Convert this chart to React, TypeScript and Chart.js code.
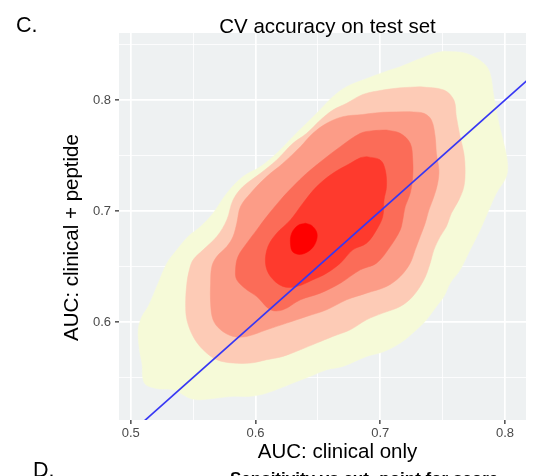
import React, { useEffect, useRef } from "react";
import { Chart, registerables } from "chart.js";

Chart.register(...registerables);

// ---- axis definitions ----
const xRange = [0.4906, 0.8168];
const yRange = [0.5117, 0.8604];
const xMajor = [0.5, 0.6, 0.7, 0.8];
const xMajorLabels = ["0.5", "0.6", "0.7", "0.8"];
const xMinor = [0.55, 0.65, 0.75];
const yMajor = [0.6, 0.7, 0.8];
const yMajorLabels = ["0.6", "0.7", "0.8"];
const yMinor = [0.55, 0.65, 0.75, 0.85];

const titleText = "CV accuracy on test set";
const xTitle = "AUC: clinical only";
const yTitle = "AUC: clinical + peptide";
const panelTag = "C.";
const nextPanelTag = "D.";
const nextPanelTitle = "Sensitivity vs cut- point for score";

// ---- density contour bands (outer -> inner), [x, y] in data units ----
const band1: [number, number][] = [
  [0.751, 0.844], [0.769, 0.842], [0.783, 0.833], [0.788, 0.824], [0.791, 0.803],
  [0.795, 0.779], [0.799, 0.761], [0.802, 0.743], [0.801, 0.731], [0.793, 0.716],
  [0.787, 0.701], [0.78, 0.683], [0.772, 0.665], [0.764, 0.647], [0.756, 0.635],
  [0.751, 0.623], [0.745, 0.614], [0.737, 0.602], [0.729, 0.593], [0.716, 0.581],
  [0.702, 0.573], [0.689, 0.569], [0.67, 0.56], [0.657, 0.557], [0.646, 0.552],
  [0.63, 0.545], [0.609, 0.536], [0.596, 0.533], [0.582, 0.533], [0.556, 0.53],
  [0.548, 0.531], [0.534, 0.539], [0.521, 0.54], [0.511, 0.545], [0.509, 0.563],
  [0.507, 0.575], [0.506, 0.593], [0.509, 0.605], [0.514, 0.614], [0.522, 0.635],
  [0.529, 0.653], [0.537, 0.665], [0.546, 0.677], [0.556, 0.686], [0.566, 0.698],
  [0.577, 0.716], [0.59, 0.731], [0.604, 0.74], [0.617, 0.752], [0.63, 0.767],
  [0.649, 0.788], [0.662, 0.803], [0.673, 0.812], [0.686, 0.818], [0.705, 0.826],
  [0.716, 0.83], [0.729, 0.836], [0.743, 0.842],
];
const band2: [number, number][] = [
  [0.732, 0.812], [0.751, 0.809], [0.759, 0.8], [0.761, 0.785], [0.764, 0.767],
  [0.767, 0.752], [0.768, 0.737], [0.767, 0.722], [0.763, 0.71], [0.757, 0.698],
  [0.753, 0.686], [0.748, 0.677], [0.743, 0.665], [0.74, 0.653], [0.735, 0.638],
  [0.726, 0.623], [0.716, 0.614], [0.702, 0.608], [0.689, 0.602], [0.676, 0.593],
  [0.662, 0.587], [0.649, 0.581], [0.636, 0.575], [0.622, 0.569], [0.609, 0.566],
  [0.596, 0.563], [0.582, 0.563], [0.569, 0.566], [0.558, 0.575], [0.55, 0.587],
  [0.545, 0.602], [0.544, 0.617], [0.545, 0.635], [0.547, 0.647], [0.55, 0.656],
  [0.558, 0.665], [0.569, 0.677], [0.577, 0.692], [0.582, 0.71], [0.59, 0.722],
  [0.604, 0.734], [0.617, 0.746], [0.63, 0.761], [0.641, 0.77], [0.652, 0.782],
  [0.662, 0.791], [0.673, 0.797], [0.686, 0.805], [0.702, 0.809], [0.716, 0.811],
];
const band3: [number, number][] = [
  [0.724, 0.7895], [0.735, 0.788], [0.741, 0.782], [0.744, 0.767], [0.745, 0.752],
  [0.747, 0.737], [0.746, 0.725], [0.743, 0.713], [0.739, 0.701], [0.736, 0.689],
  [0.732, 0.677], [0.728, 0.665], [0.724, 0.653], [0.716, 0.641], [0.705, 0.632],
  [0.689, 0.626], [0.673, 0.62], [0.657, 0.611], [0.641, 0.605], [0.625, 0.599],
  [0.609, 0.593], [0.593, 0.587], [0.582, 0.587], [0.572, 0.593], [0.566, 0.602],
  [0.564, 0.617], [0.564, 0.635], [0.565, 0.65], [0.569, 0.659], [0.577, 0.668],
  [0.582, 0.677], [0.585, 0.689], [0.588, 0.704], [0.596, 0.716], [0.609, 0.731],
  [0.622, 0.743], [0.636, 0.758], [0.646, 0.77], [0.657, 0.779], [0.67, 0.785],
  [0.686, 0.787], [0.702, 0.789],
];
const band4: [number, number][] = [
  [0.705, 0.773], [0.716, 0.77], [0.724, 0.761], [0.726, 0.746], [0.726, 0.731],
  [0.724, 0.716], [0.72, 0.704], [0.718, 0.692], [0.716, 0.683], [0.708, 0.668],
  [0.697, 0.653], [0.684, 0.647], [0.668, 0.635], [0.652, 0.626], [0.636, 0.62],
  [0.622, 0.611], [0.612, 0.611], [0.601, 0.623], [0.593, 0.629], [0.585, 0.638],
  [0.584, 0.647], [0.586, 0.659], [0.593, 0.671], [0.601, 0.683], [0.609, 0.695],
  [0.62, 0.71], [0.63, 0.722], [0.641, 0.734], [0.654, 0.746], [0.668, 0.758],
  [0.684, 0.77], [0.694, 0.7724],
];
const band5: [number, number][] = [
  [0.689, 0.749], [0.7, 0.746], [0.704, 0.737], [0.705, 0.722], [0.703, 0.71],
  [0.702, 0.695], [0.697, 0.683], [0.689, 0.671], [0.678, 0.665], [0.668, 0.653],
  [0.657, 0.644], [0.646, 0.638], [0.633, 0.632], [0.622, 0.632], [0.612, 0.641],
  [0.608, 0.653], [0.61, 0.668], [0.617, 0.68], [0.628, 0.692], [0.638, 0.707],
  [0.649, 0.722], [0.662, 0.734], [0.676, 0.743], [0.684, 0.748],
];
const band6: [number, number][] = [
  [0.64, 0.689], [0.645, 0.687], [0.649, 0.681], [0.649, 0.674], [0.645, 0.666],
  [0.637, 0.661], [0.63, 0.663], [0.628, 0.671], [0.629, 0.68], [0.634, 0.687],
];
const bands = [band1, band2, band3, band4, band5, band6];
const bandColors = ["#F6FAD8", "#FDCBB6", "#FC9C87", "#FB6C58", "#FE3A2D", "#FE0000"];

// identity reference line y = x
const refLineX = [0.45, 0.9];

const FONT = "'Liberation Sans', Arial, Helvetica, sans-serif";
const isIn = (arr: number[], v: number) => arr.some((t) => Math.abs(t - v) < 1e-6);

export default function App() {
  const ref = useRef<HTMLCanvasElement | null>(null);

  useEffect(() => {
    document.body.style.margin = "0";
    const canvas = ref.current!;
    const panelBg = {
      id: "panelBg",
      beforeDraw(chart: any) {
        const { ctx, chartArea: a } = chart;
        ctx.save();
        ctx.fillStyle = "#ffffff";
        ctx.fillRect(0, 0, chart.width, chart.height);
        ctx.fillStyle = "#EEF1F2";
        ctx.fillRect(a.left, a.top, a.right - a.left, a.bottom - a.top);
        ctx.restore();
      },
    };
    const texts = {
      id: "texts",
      afterDraw(chart: any) {
        const ctx = chart.ctx;
        ctx.save();
        ctx.fillStyle = "#000000";
        ctx.textBaseline = "alphabetic";
        ctx.font = `21.5px ${FONT}`;
        ctx.textAlign = "left";
        ctx.fillText(panelTag, 16, 32);
        ctx.fillText(nextPanelTag, 33, 476.5);
        ctx.font = `20.5px ${FONT}`;
        ctx.textAlign = "center";
        ctx.fillText(titleText, 327.5, 33);
        ctx.fillText(xTitle, 337.5, 457.5);
        ctx.save();
        ctx.translate(78, 237.5);
        ctx.rotate(-Math.PI / 2);
        ctx.fillText(yTitle, 0, 0);
        ctx.restore();
        ctx.font = `bold 17px ${FONT}`;
        ctx.textAlign = "left";
        ctx.fillText(nextPanelTitle, 230, 484);
        ctx.restore();
      },
    };

    const datasets: any[] = bands.map((pts, i) => ({
      data: [...pts, pts[0]].map(([x, y]) => ({ x, y })),
      showLine: true,
      fill: "shape",
      backgroundColor: bandColors[i],
      borderColor: bandColors[i],
      borderWidth: 0.5,
      pointRadius: 0,
      tension: 0.35,
      order: 20 - i,
    }));
    datasets.push({
      data: refLineX.map((v) => ({ x: v, y: v })),
      showLine: true,
      fill: false,
      borderColor: "#3737F4",
      borderWidth: 1.7,
      pointRadius: 0,
      tension: 0,
      order: 0,
    });

    const gridOpts = (major: number[]) => ({
      color: "#ffffff",
      lineWidth: (c: any) => (c.tick && isIn(major, c.tick.value) ? 1.7 : 0.8),
      tickColor: (c: any) => (c.tick && isIn(major, c.tick.value) ? "#333333" : "rgba(0,0,0,0)"),
      tickWidth: 1.3,
      tickLength: 4,
      drawTicks: true,
    });

    const chart = new Chart(canvas, {
      type: "scatter",
      data: { datasets },
      options: {
        animation: false,
        responsive: false,
        maintainAspectRatio: false,
        layout: { padding: { left: 0, right: 12, top: 33, bottom: 0 } },
        plugins: { legend: { display: false }, tooltip: { enabled: false }, title: { display: false } },
        scales: {
          x: {
            type: "linear",
            min: xRange[0],
            max: xRange[1],
            afterBuildTicks: (s: any) => {
              s.ticks = [...xMajor, ...xMinor].sort((a, b) => a - b).map((v) => ({ value: v }));
            },
            afterFit: (s: any) => {
              s.height = 56;
            },
            ticks: {
              autoSkip: false,
              maxRotation: 0,
              padding: 2,
              color: "#4A4A4A",
              font: { family: FONT, size: 13 },
              callback: (v: any) => {
                const i = xMajor.findIndex((t) => Math.abs(t - v) < 1e-6);
                return i >= 0 ? xMajorLabels[i] : "";
              },
            },
            grid: gridOpts(xMajor),
            border: { display: false },
          },
          y: {
            type: "linear",
            min: yRange[0],
            max: yRange[1],
            afterBuildTicks: (s: any) => {
              s.ticks = [...yMajor, ...yMinor].sort((a, b) => a - b).map((v) => ({ value: v }));
            },
            afterFit: (s: any) => {
              s.width = 119;
            },
            ticks: {
              autoSkip: false,
              padding: 4,
              color: "#4A4A4A",
              font: { family: FONT, size: 13 },
              callback: (v: any) => {
                const i = yMajor.findIndex((t) => Math.abs(t - v) < 1e-6);
                return i >= 0 ? yMajorLabels[i] : "";
              },
            },
            grid: gridOpts(yMajor),
            border: { display: false },
          },
        },
      } as any,
      plugins: [panelBg, texts],
    });
    return () => chart.destroy();
  }, []);

  return (
    <div style={{ position: "fixed", left: 0, top: 0, width: 538, height: 476 }}>
      <canvas ref={ref} width={538} height={476} style={{ width: 538, height: 476, display: "block" }} />
    </div>
  );
}
